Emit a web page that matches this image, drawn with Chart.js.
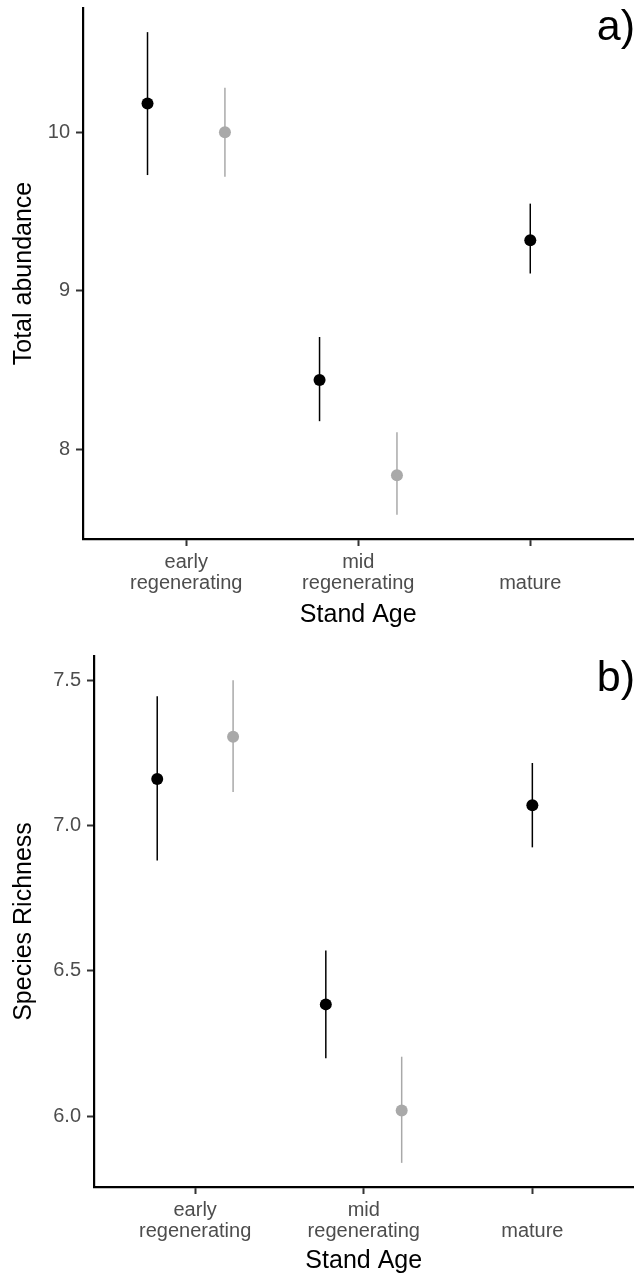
<!DOCTYPE html>
<html>
<head>
<meta charset="utf-8">
<script src="https://cdn.jsdelivr.net/npm/chart.js@4/dist/chart.umd.min.js"></script>
<style>
html,body{margin:0;padding:0;background:#fff;}
#wrap{position:relative;width:640px;height:1276px;overflow:hidden;}
.panel{position:absolute;left:0;}
.tag{position:absolute;font-family:"Liberation Sans",Arial,sans-serif;font-size:43px;line-height:43px;color:#000;}
</style>
</head>
<body>
<div id="wrap">
  <div class="panel" style="top:0;width:640px;height:640px"><canvas id="cA" width="640" height="640"></canvas></div>
  <div class="panel" style="top:640px;width:640px;height:636px"><canvas id="cB" width="640" height="636"></canvas></div>
  <div class="tag" style="right:5px;top:4px">a)</div>
  <div class="tag" style="right:5px;top:655px">b)</div>
</div>
<script>
// ---------- data ----------
const standAges = [["early", "regenerating"], ["mid", "regenerating"], ["mature"]];

const abundanceBlack     = [10.18, 8.44, 9.32];
const abundanceBlackLow  = [9.73, 8.18, 9.11];
const abundanceBlackHigh = [10.63, 8.71, 9.55];
const abundanceGrey      = [10.00, 7.84, null];
const abundanceGreyLow   = [9.72, 7.59, null];
const abundanceGreyHigh  = [10.28, 8.11, null];

const richnessBlack      = [7.16, 6.385, 7.07];
const richnessBlackLow   = [6.88, 6.20, 6.925];
const richnessBlackHigh  = [7.445, 6.57, 7.215];
const richnessGrey       = [7.305, 6.02, null];
const richnessGreyLow    = [7.115, 5.84, null];
const richnessGreyHigh   = [7.50, 6.205, null];

const abundanceTicks = [8, 9, 10];
const richnessTicks  = [6.0, 6.5, 7.0, 7.5];

// ---------- styling ----------
const FONT = '"Liberation Sans", Arial, sans-serif';
Chart.defaults.font.family = FONT;
const BLACK = '#000000';
const GREY = '#A9A9A9';
const DODGE = 0.225;

const errorBarPlugin = {
  id: 'errorBars',
  beforeDatasetsDraw(chart) {
    const ctx = chart.ctx;
    const xs = chart.scales.x, ys = chart.scales.y;
    ctx.save();
    chart.data.datasets.forEach(ds => {
      ctx.strokeStyle = ds.backgroundColor;
      ctx.lineWidth = 1.5;
      ds.data.forEach(p => {
        const px = xs.getPixelForValue(p.x);
        ctx.beginPath();
        ctx.moveTo(px, ys.getPixelForValue(p.lo));
        ctx.lineTo(px, ys.getPixelForValue(p.hi));
        ctx.stroke();
      });
    });
    ctx.restore();
  }
};

function buildPoints(mean, lo, hi, other, sign) {
  const pts = [];
  mean.forEach((v, i) => {
    if (v === null) return;
    const off = other[i] === null ? 0 : sign * DODGE;
    pts.push({ x: i + off, y: v, lo: lo[i], hi: hi[i] });
  });
  return pts;
}

function zeroPad(s) {
  s.paddingTop = 0; s.paddingBottom = 0; s.paddingLeft = 0; s.paddingRight = 0;
}

function makePanel(id, cfg) {
  const all = cfg.blackLow.concat(cfg.blackHigh, cfg.greyLow, cfg.greyHigh).filter(v => v !== null);
  const dMin = Math.min(...all), dMax = Math.max(...all);
  const pad = (dMax - dMin) * 0.05;
  new Chart(document.getElementById(id), {
    type: 'scatter',
    data: {
      datasets: [
        {
          label: 'black',
          data: buildPoints(cfg.black, cfg.blackLow, cfg.blackHigh, cfg.grey, -1),
          backgroundColor: BLACK, borderWidth: 0,
          pointRadius: 6, pointHoverRadius: 6
        },
        {
          label: 'grey',
          data: buildPoints(cfg.grey, cfg.greyLow, cfg.greyHigh, cfg.black, 1),
          backgroundColor: GREY, borderWidth: 0,
          pointRadius: 6, pointHoverRadius: 6
        }
      ]
    },
    options: {
      responsive: false,
      animation: false,
      devicePixelRatio: 1,
      layout: { padding: { top: cfg.padTop, right: 6.5, left: 0, bottom: 0 } },
      plugins: { legend: { display: false }, tooltip: { enabled: false }, title: { display: false } },
      scales: {
        x: {
          type: 'linear',
          min: -0.6, max: 2.6,
          afterBuildTicks: s => { s.ticks = standAges.map((_, i) => ({ value: i })); },
          afterFit: s => { s.height = cfg.xHeight; zeroPad(s); },
          ticks: {
            callback: v => standAges[v],
            autoSkip: false, maxRotation: 0, minRotation: 0,
            color: '#4D4D4D',
            font: { size: 20, lineHeight: 1.085 },
            padding: 16,
            crossAlign: 'far'
          },
          grid: { drawOnChartArea: false, drawTicks: true, tickLength: 7, tickColor: '#333333', tickWidth: 2 },
          border: { display: true, color: '#000000', width: 2.2 },
          title: {
            display: true, text: 'Stand Age', color: '#000000',
            font: { size: 25 },
            padding: { top: 0, bottom: cfg.titlePadBottom }
          }
        },
        y: {
          type: 'linear',
          min: dMin - pad, max: dMax + pad,
          afterBuildTicks: s => { s.ticks = cfg.ticks.map(v => ({ value: v })); },
          afterFit: s => { s.width = cfg.yWidth; zeroPad(s); },
          ticks: {
            callback: v => v.toFixed(cfg.decimals),
            color: '#4D4D4D',
            font: { size: 20 },
            padding: 6
          },
          grid: { drawOnChartArea: false, drawTicks: true, tickLength: 7, tickColor: '#333333', tickWidth: 2 },
          border: { display: true, color: '#000000', width: 2.2 },
          title: {
            display: true, text: cfg.yTitle, color: '#000000',
            font: { size: 25 },
            padding: { top: 9, bottom: 0 }
          }
        }
      }
    },
    plugins: [errorBarPlugin]
  });
}

makePanel('cA', {
  black: abundanceBlack, blackLow: abundanceBlackLow, blackHigh: abundanceBlackHigh,
  grey: abundanceGrey, greyLow: abundanceGreyLow, greyHigh: abundanceGreyHigh,
  ticks: abundanceTicks, decimals: 0, yTitle: 'Total abundance',
  padTop: 8, xHeight: 101, yWidth: 83, titlePadBottom: 10
});

makePanel('cB', {
  black: richnessBlack, blackLow: richnessBlackLow, blackHigh: richnessBlackHigh,
  grey: richnessGrey, greyLow: richnessGreyLow, greyHigh: richnessGreyHigh,
  ticks: richnessTicks, decimals: 1, yTitle: 'Species Richness',
  padTop: 16, xHeight: 89, yWidth: 94, titlePadBottom: 0
});
</script>
</body>
</html>
